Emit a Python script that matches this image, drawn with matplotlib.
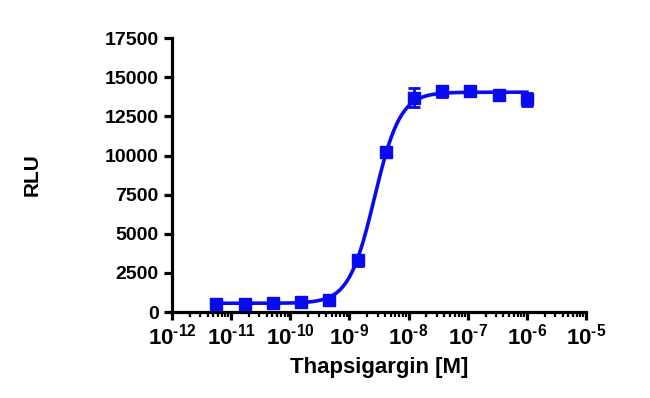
import numpy as np
import matplotlib
matplotlib.use('Agg')
from matplotlib import pyplot as plt
from matplotlib.ticker import LogLocator, FixedLocator, FuncFormatter

plt.rcParams['font.family'] = ['Liberation Sans', 'DejaVu Sans']
plt.rcParams['font.weight'] = 'bold'
plt.rcParams['mathtext.fontset'] = 'custom'
plt.rcParams['mathtext.rm'] = 'Liberation Sans:bold'
plt.rcParams['mathtext.bf'] = 'Liberation Sans:bold'
plt.rcParams['mathtext.default'] = 'rm'

# concentrations (3-fold dilution series, M)
conc = [1e-6, 3.33e-7, 1.11e-7, 3.7e-8, 1.23e-8, 4.12e-9, 1.37e-9,
        4.57e-10, 1.52e-10, 5.08e-11, 1.69e-11, 5.65e-12]
rlu = [13600, 13850, 14150, 14100, 13700, 10200, 3300,
       800, 650, 580, 540, 520]
err = [420, 300, 180, 330, 620, 320, 350,
       80, 80, 60, 60, 80]

# 4PL fit parameters
bottom = 560
top = 14050
ec50 = 2.65e-9
hill = 2.0

color = '#0a0af0'

fig = plt.figure(figsize=(6.5, 3.98), dpi=100)
ax = fig.add_axes([0.2646, 0.216, 0.637, 0.688])

x_fit = np.logspace(np.log10(min(conc)), np.log10(max(conc)), 400)
y_fit = bottom + (top - bottom) / (1 + (ec50 / x_fit) ** hill)
ax.plot(x_fit, y_fit, color=color, lw=2.6, zorder=2)

ax.errorbar(conc, rlu, yerr=err, fmt='s', color=color, ms=8,
            ecolor=color, elinewidth=2, capsize=4, capthick=2, zorder=3)

ax.set_xscale('log')
ax.set_xlim(1e-12, 1e-5)
ax.set_ylim(0, 17500)
ax.yaxis.set_major_locator(FixedLocator(np.arange(0, 17501, 2500)))
ax.xaxis.set_major_locator(LogLocator(base=10, numticks=20))
ax.xaxis.set_minor_locator(LogLocator(base=10, subs=np.arange(2, 10), numticks=20))


def pow_label(v, pos):
    e = int(round(np.log10(v)))
    return r'$10^{\text{%d}}$' % e


ax.xaxis.set_major_formatter(FuncFormatter(pow_label))

for s in ['top', 'right']:
    ax.spines[s].set_visible(False)
for s in ['left', 'bottom']:
    ax.spines[s].set_linewidth(2.3)

ax.tick_params(axis='both', which='major', width=2.3, length=6)
ax.tick_params(axis='y', labelsize=14)
ax.tick_params(axis='x', which='major', labelsize=16, pad=2)
ax.tick_params(axis='x', which='minor', width=1.6, length=3.5)

ax.set_xlabel('Thapsigargin [M]', fontsize=16, fontweight='bold')
ax.set_ylabel('RLU', fontsize=15, fontweight='bold')
ax.xaxis.set_label_coords(0.5, -0.165)
ax.yaxis.set_label_coords(-0.314, 0.5)

fig.savefig('out.png', dpi=100)
